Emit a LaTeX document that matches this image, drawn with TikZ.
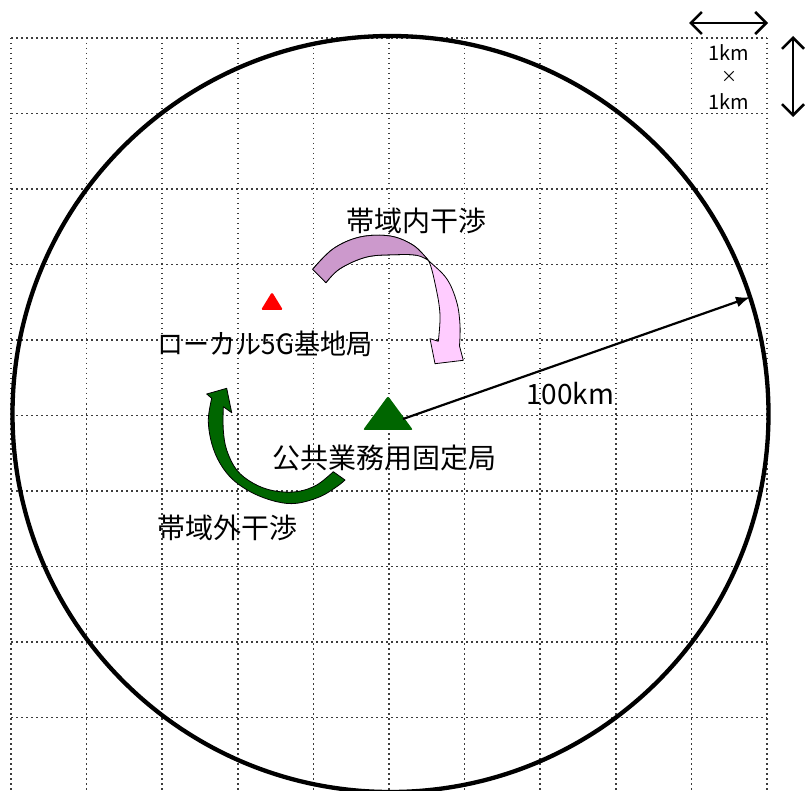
\documentclass[tikz,border=0pt]{standalone}
\usepackage{fontspec}
\setmainfont{Noto Sans CJK JP}
\usetikzlibrary{arrows.meta}
\definecolor{dgreen}{RGB}{0,102,0}
\definecolor{lav}{RGB}{204,153,204}
\definecolor{lpink}{RGB}{255,204,255}
\definecolor{gridc}{RGB}{60,60,60}
\begin{document}
\begin{tikzpicture}[x=1pt,y=-1pt,
  griddot/.style={gridc, line width=1.5pt, dash pattern=on 1.5pt off 3.5pt},
  lbl/.style={font=\fontsize{28}{30}\selectfont, inner sep=0pt},
  smalllbl/.style={font=\fontsize{20}{22}\selectfont, inner sep=0pt},
  bandarrow/.style={draw=black, line width=0.8pt, line join=round},
  scalearrow/.style={line width=2.5pt, {Straight Barb[length=11pt,width=22pt]}-{Straight Barb[length=11pt,width=22pt]}},
]
\useasboundingbox (0,0) rectangle (806,791);
% grid
\foreach \i in {0,...,10} { \draw[griddot] ({11+75.6*\i},38) -- ({11+75.6*\i},791); }
\foreach \j in {0,...,9} { \draw[griddot] (11,{38+75.5*\j}) -- (767,{38+75.5*\j}); }
% big circle
\node[circle, draw, line width=4.3pt, minimum size=756pt, inner sep=0pt, outer sep=0pt] (ring) at (390.5,414) {};
% scale arrows
\coordinate (hl) at (689,23); \coordinate (hr) at (768,23);
\draw[scalearrow] (hl) -- (hr);
\coordinate (vt) at (793,36); \coordinate (vb) at (793,117);
\draw[scalearrow] (vt) -- (vb);
\node[smalllbl] (s1) at (729,53) {1km};
\node[smalllbl] (s2) at (729,77) {\fontsize{16}{18}\selectfont ×};
\node[smalllbl] (s3) at (729,102) {1km};
% stations
\fill[dgreen, rounded corners=2pt] (388,396) -- (413,430) -- (363,430) -- cycle;
\coordinate (gtri) at (388,418);
\fill[red, rounded corners=1.5pt] (272,292) -- (283,310) -- (261,310) -- cycle;
\coordinate (rtri) at (272,303);
% radius arrow
\coordinate (rstart) at (403,419);
\draw[line width=2.2pt, -{Latex[length=14pt,width=11pt]}] (rstart) -- (ring.18.5);
% in-band interference arrow: full silhouette in pink, back part in lavender
\draw[bandarrow, fill=lpink] plot[smooth, tension=0.6] coordinates {(312.7,269.3) (333.3,248.7) (360,237) (390,236) (413.3,245.3) (428.3,260.3) (446.7,278.7) (456.7,302) (460,325) (459.5,346)} -- (463.3,360.3) -- (435,363.7) -- (430,338.7) -- plot[smooth,tension=0.6] coordinates {(438.3,341.3) (440,315) (436,288) (428.3,260.3) (416.7,255.3) (396.7,254.7) (366.7,257) (340,268.7) (326,282.7)} -- cycle;
\draw[bandarrow, fill=lav] plot[smooth, tension=0.6] coordinates {(312.7,269.3) (333.3,248.7) (360,237) (390,236) (413.3,245.3) (428.3,260.3)} -- plot[smooth, tension=0.6] coordinates {(428.3,260.3) (416.7,255.3) (396.7,254.7) (366.7,257) (340,268.7) (326,282.7)} -- cycle;
% out-of-band interference arrow
\draw[bandarrow, fill=dgreen] plot[smooth, tension=0.6] coordinates {(345,480) (336.7,486.7) (320,496.7) (296.7,503.3) (276.7,501.7) (253.3,493.3) (233.3,480) (220,463.3) (211.7,443.3) (208.3,420) (211.7,398.3)} -- (206.7,394) -- (226.7,388.3) -- (231.7,412.7) -- plot[smooth, tension=0.6] coordinates {(223.3,406.7) (223.3,430) (226.7,450) (236.7,470) (253.3,483.3) (273.3,490.7) (296.7,491.7) (316.7,485) (333.3,471.7)} -- cycle;
% labels
\node[lbl] (inband) at (416.5,220.5) {帯域内干渉};
\node[lbl] (local) at (265,344) {\scalebox{0.93}[1]{ローカル5G基地局}};
\node[lbl] (public) at (384,457.5) {公共業務用固定局};
\node[lbl] (outband) at (227,527.5) {帯域外干渉};
\node[lbl] (dist) at (570,394) {100km};
\end{tikzpicture}
\end{document}
